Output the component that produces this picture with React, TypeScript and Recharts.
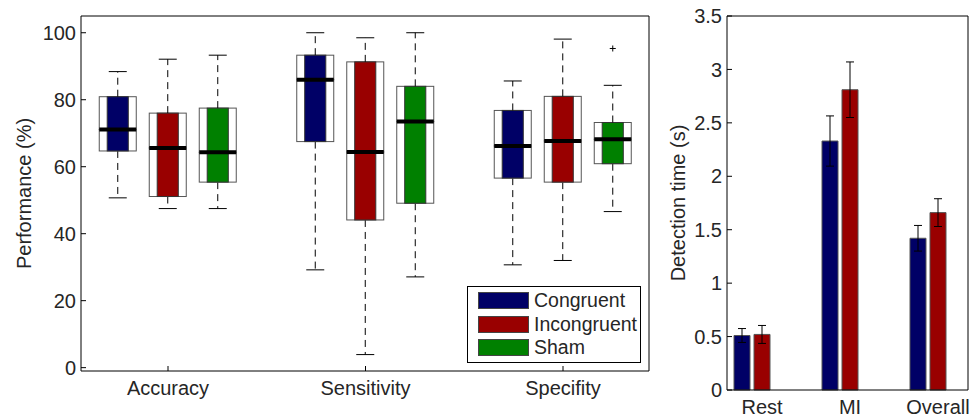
import { ComposedChart, Bar, XAxis, YAxis, ErrorBar } from "recharts";

const FONT = '"Liberation Sans", Arial, Helvetica, sans-serif';
const TEXT = "#262626";

const categories = ["Accuracy", "Sensitivity", "Specifity"];
const groups = ["Congruent", "Incongruent", "Sham"];
const groupColors = ["#000066", "#990000", "#008000"];

// [lower whisker, q1, median, q3, upper whisker] per category
const congruentBoxes = [
  [50.7, 64.7, 71.1, 80.9, 88.4],
  [29.2, 67.5, 86.0, 93.3, 100],
  [30.7, 56.6, 66.2, 76.8, 85.6],
];
const incongruentBoxes = [
  [47.5, 51.1, 65.6, 76.0, 92.1],
  [3.9, 44.1, 64.4, 91.3, 98.5],
  [32.0, 55.4, 67.7, 81.0, 98.1],
];
const shamBoxes = [
  [47.5, 55.4, 64.3, 77.5, 93.3],
  [27.1, 49.1, 73.5, 84.0, 100],
  [46.6, 60.9, 68.2, 73.2, 84.3],
];
const congruentOutliers = [null, null, null];
const incongruentOutliers = [null, null, null];
const shamOutliers = [null, null, 95.3];

const perfTicks = [0, 20, 40, 60, 80, 100];

const timeCategories = ["Rest", "MI", "Overall"];
const congruentTime = [0.51, 2.33, 1.42];
const congruentTimeErr = [0.065, 0.235, 0.12];
const incongruentTime = [0.52, 2.81, 1.66];
const incongruentTimeErr = [0.084, 0.26, 0.13];
const shamTime = [0, 0, 0]; // sham has no detection time
const timeTicks = [0, 0.5, 1, 1.5, 2, 2.5, 3, 3.5];

const keys = ["c", "i", "s"];
const boxSets = [congruentBoxes, incongruentBoxes, shamBoxes];
const outlierSets = [congruentOutliers, incongruentOutliers, shamOutliers];

// stacked segments: base -> low whisker -> lower box -> upper box -> high whisker -> outlier
const perfData = categories.map((cat, k) => {
  const row: Record<string, any> = { cat };
  keys.forEach((g, gi) => {
    const [lo, q1, med, q3, hi] = boxSets[gi][k];
    const out = outlierSets[gi][k];
    row[g + "_base"] = lo;
    row[g + "_lw"] = q1 - lo;
    row[g + "_lb"] = med - q1;
    row[g + "_hb"] = q3 - med;
    row[g + "_hw"] = hi - q3;
    row[g + "_out"] = out == null ? 0 : out - hi;
  });
  return row;
});

const timeData = timeCategories.map((cat, k) => ({
  cat,
  c: congruentTime[k],
  cErr: congruentTimeErr[k],
  i: incongruentTime[k],
  iErr: incongruentTimeErr[k],
  s: shamTime[k],
}));

const LowWhisker = (p: any) => {
  const { x, y, width, height } = p;
  const cx = x + width / 2;
  return (
    <g>
      <line x1={cx} x2={cx} y1={y} y2={y + height} stroke="#000" strokeDasharray="7 5" />
      <line x1={cx - 9} x2={cx + 9} y1={y + height} y2={y + height} stroke="#000" />
    </g>
  );
};

const HighWhisker = (p: any) => {
  const { x, y, width, height } = p;
  const cx = x + width / 2;
  return (
    <g>
      <line x1={cx} x2={cx} y1={y + height} y2={y} stroke="#000" strokeDasharray="7 5" />
      <line x1={cx - 9} x2={cx + 9} y1={y} y2={y} stroke="#000" />
    </g>
  );
};

const Outlier = (p: any) => {
  const { x, y, width, height } = p;
  if (!(height > 0.5)) return <g />;
  const cx = x + width / 2;
  return (
    <g stroke="#000">
      <line x1={cx - 3} x2={cx + 3} y1={y} y2={y} />
      <line x1={cx} x2={cx} y1={y - 3} y2={y + 3} />
    </g>
  );
};

const boxHalf = (color: string, withMedian: boolean) => (p: any) => {
  const { x, y, width, height } = p;
  const inner = width * 0.57;
  const ix = x + (width - inner) / 2;
  return (
    <g>
      <rect x={x} y={y} width={width} height={height} fill="#fff" stroke="#555" />
      <rect x={ix} y={y} width={inner} height={height} fill={color} stroke="#333" />
      {withMedian && (
        <line x1={x} x2={x + width} y1={y + height} y2={y + height} stroke="#000" strokeWidth={4} />
      )}
    </g>
  );
};

const tickStyle = { fill: TEXT, fontSize: 20, fontFamily: FONT };
const lineStyle = { stroke: "#000" };
const labelStyle = { textAnchor: "middle", fill: TEXT, fontSize: 20, fontFamily: FONT };

function PerformanceChart() {
  return (
    <ComposedChart
      width={660}
      height={418}
      data={perfData}
      margin={{ top: 15, right: 10, bottom: 17, left: 21 }}
      barGap={13}
      barSize={37}
    >
      <XAxis
        dataKey="cat"
        height={30}
        interval={0}
        padding={{ left: -11.75, right: -12.75 }}
        tickSize={-5}
        tickMargin={15}
        axisLine={lineStyle}
        tickLine={lineStyle}
        tick={tickStyle}
      />
      <XAxis
        dataKey="cat"
        xAxisId="top"
        orientation="top"
        height={1}
        interval={0}
        padding={{ left: -11.75, right: -12.75 }}
        tickSize={-5}
        axisLine={lineStyle}
        tickLine={lineStyle}
        tick={false}
      />
      <YAxis
        width={60}
        domain={[-1, 105]}
        ticks={perfTicks}
        tickSize={-5}
        tickMargin={10}
        axisLine={lineStyle}
        tickLine={lineStyle}
        tick={tickStyle}
        label={{
          value: "Performance (%)",
          angle: -90,
          position: "insideLeft",
          offset: 3,
          style: labelStyle,
        }}
      />
      <YAxis
        yAxisId="right"
        orientation="right"
        width={1}
        domain={[-1, 105]}
        ticks={perfTicks}
        tickSize={-5}
        axisLine={lineStyle}
        tickLine={lineStyle}
        tick={false}
      />
      {keys.map((g, gi) => [
        <Bar key={g + "b"} dataKey={g + "_base"} stackId={g} fill="transparent" isAnimationActive={false} />,
        <Bar key={g + "lw"} dataKey={g + "_lw"} stackId={g} shape={LowWhisker} isAnimationActive={false} />,
        <Bar key={g + "lb"} dataKey={g + "_lb"} stackId={g} shape={boxHalf(groupColors[gi], false)} isAnimationActive={false} />,
        <Bar key={g + "hb"} dataKey={g + "_hb"} stackId={g} shape={boxHalf(groupColors[gi], true)} isAnimationActive={false} />,
        <Bar key={g + "hw"} dataKey={g + "_hw"} stackId={g} shape={HighWhisker} isAnimationActive={false} />,
        <Bar key={g + "o"} dataKey={g + "_out"} stackId={g} shape={Outlier} isAnimationActive={false} />,
      ])}
    </ComposedChart>
  );
}

function TimeChart() {
  return (
    <ComposedChart
      width={313}
      height={418}
      data={timeData}
      margin={{ top: 15, right: 4, bottom: 8, left: 7 }}
      barGap={4}
      barSize={16}
    >
      <XAxis
        dataKey="cat"
        height={20}
        interval={0}
        padding={{ left: -9, right: -14 }}
        tickSize={-5}
        tickMargin={15}
        axisLine={lineStyle}
        tickLine={false}
        tick={tickStyle}
      />
      <XAxis
        dataKey="cat"
        xAxisId="top"
        orientation="top"
        height={1}
        padding={{ left: -9, right: -14 }}
        axisLine={lineStyle}
        tickLine={false}
        tick={false}
      />
      <YAxis
        width={60}
        domain={[0, 3.5]}
        ticks={timeTicks}
        tickSize={-5}
        tickMargin={10}
        axisLine={lineStyle}
        tickLine={lineStyle}
        tick={tickStyle}
        tickFormatter={(v: number) => String(v)}
        label={{
          value: "Detection time (s)",
          angle: -90,
          position: "insideLeft",
          offset: 11,
          style: labelStyle,
        }}
      />
      <YAxis
        yAxisId="right"
        orientation="right"
        width={1}
        domain={[0, 3.5]}
        ticks={timeTicks}
        tickSize={-5}
        axisLine={lineStyle}
        tickLine={lineStyle}
        tick={false}
      />
      <Bar dataKey="c" fill={groupColors[0]} stroke="#555" isAnimationActive={false}>
        <ErrorBar dataKey="cErr" width={4} stroke="#000" strokeWidth={1} />
      </Bar>
      <Bar dataKey="i" fill={groupColors[1]} stroke="#555" isAnimationActive={false}>
        <ErrorBar dataKey="iErr" width={4} stroke="#000" strokeWidth={1} />
      </Bar>
      <Bar dataKey="s" fill="none" isAnimationActive={false} />
    </ComposedChart>
  );
}

function LegendBox() {
  return (
    <div
      style={{
        position: "absolute",
        left: 467,
        top: 286,
        width: 174,
        height: 77,
        border: "1.5px solid #000",
        background: "#fff",
        boxSizing: "border-box",
        fontFamily: FONT,
        fontSize: 19.5,
        color: TEXT,
      }}
    >
      {groups.map((name, gi) => (
        <div
          key={name}
          style={{ position: "absolute", left: 10, top: 5 + gi * 23.5, height: 17, display: "flex", alignItems: "center" }}
        >
          <span
            style={{
              display: "inline-block",
              width: 51,
              height: 17,
              background: groupColors[gi],
              border: "1px solid #444",
              boxSizing: "border-box",
              marginRight: 5,
            }}
          />
          <span style={{ lineHeight: "17px", whiteSpace: "nowrap" }}>{name}</span>
        </div>
      ))}
    </div>
  );
}

export default function App() {
  return (
    <div style={{ position: "absolute", left: 0, top: 0, width: 973, height: 418, background: "#fff" }}>
      <div style={{ position: "absolute", left: 0, top: 0 }}>
        <PerformanceChart />
      </div>
      <div style={{ position: "absolute", left: 660, top: 0 }}>
        <TimeChart />
      </div>
      <LegendBox />
    </div>
  );
}
